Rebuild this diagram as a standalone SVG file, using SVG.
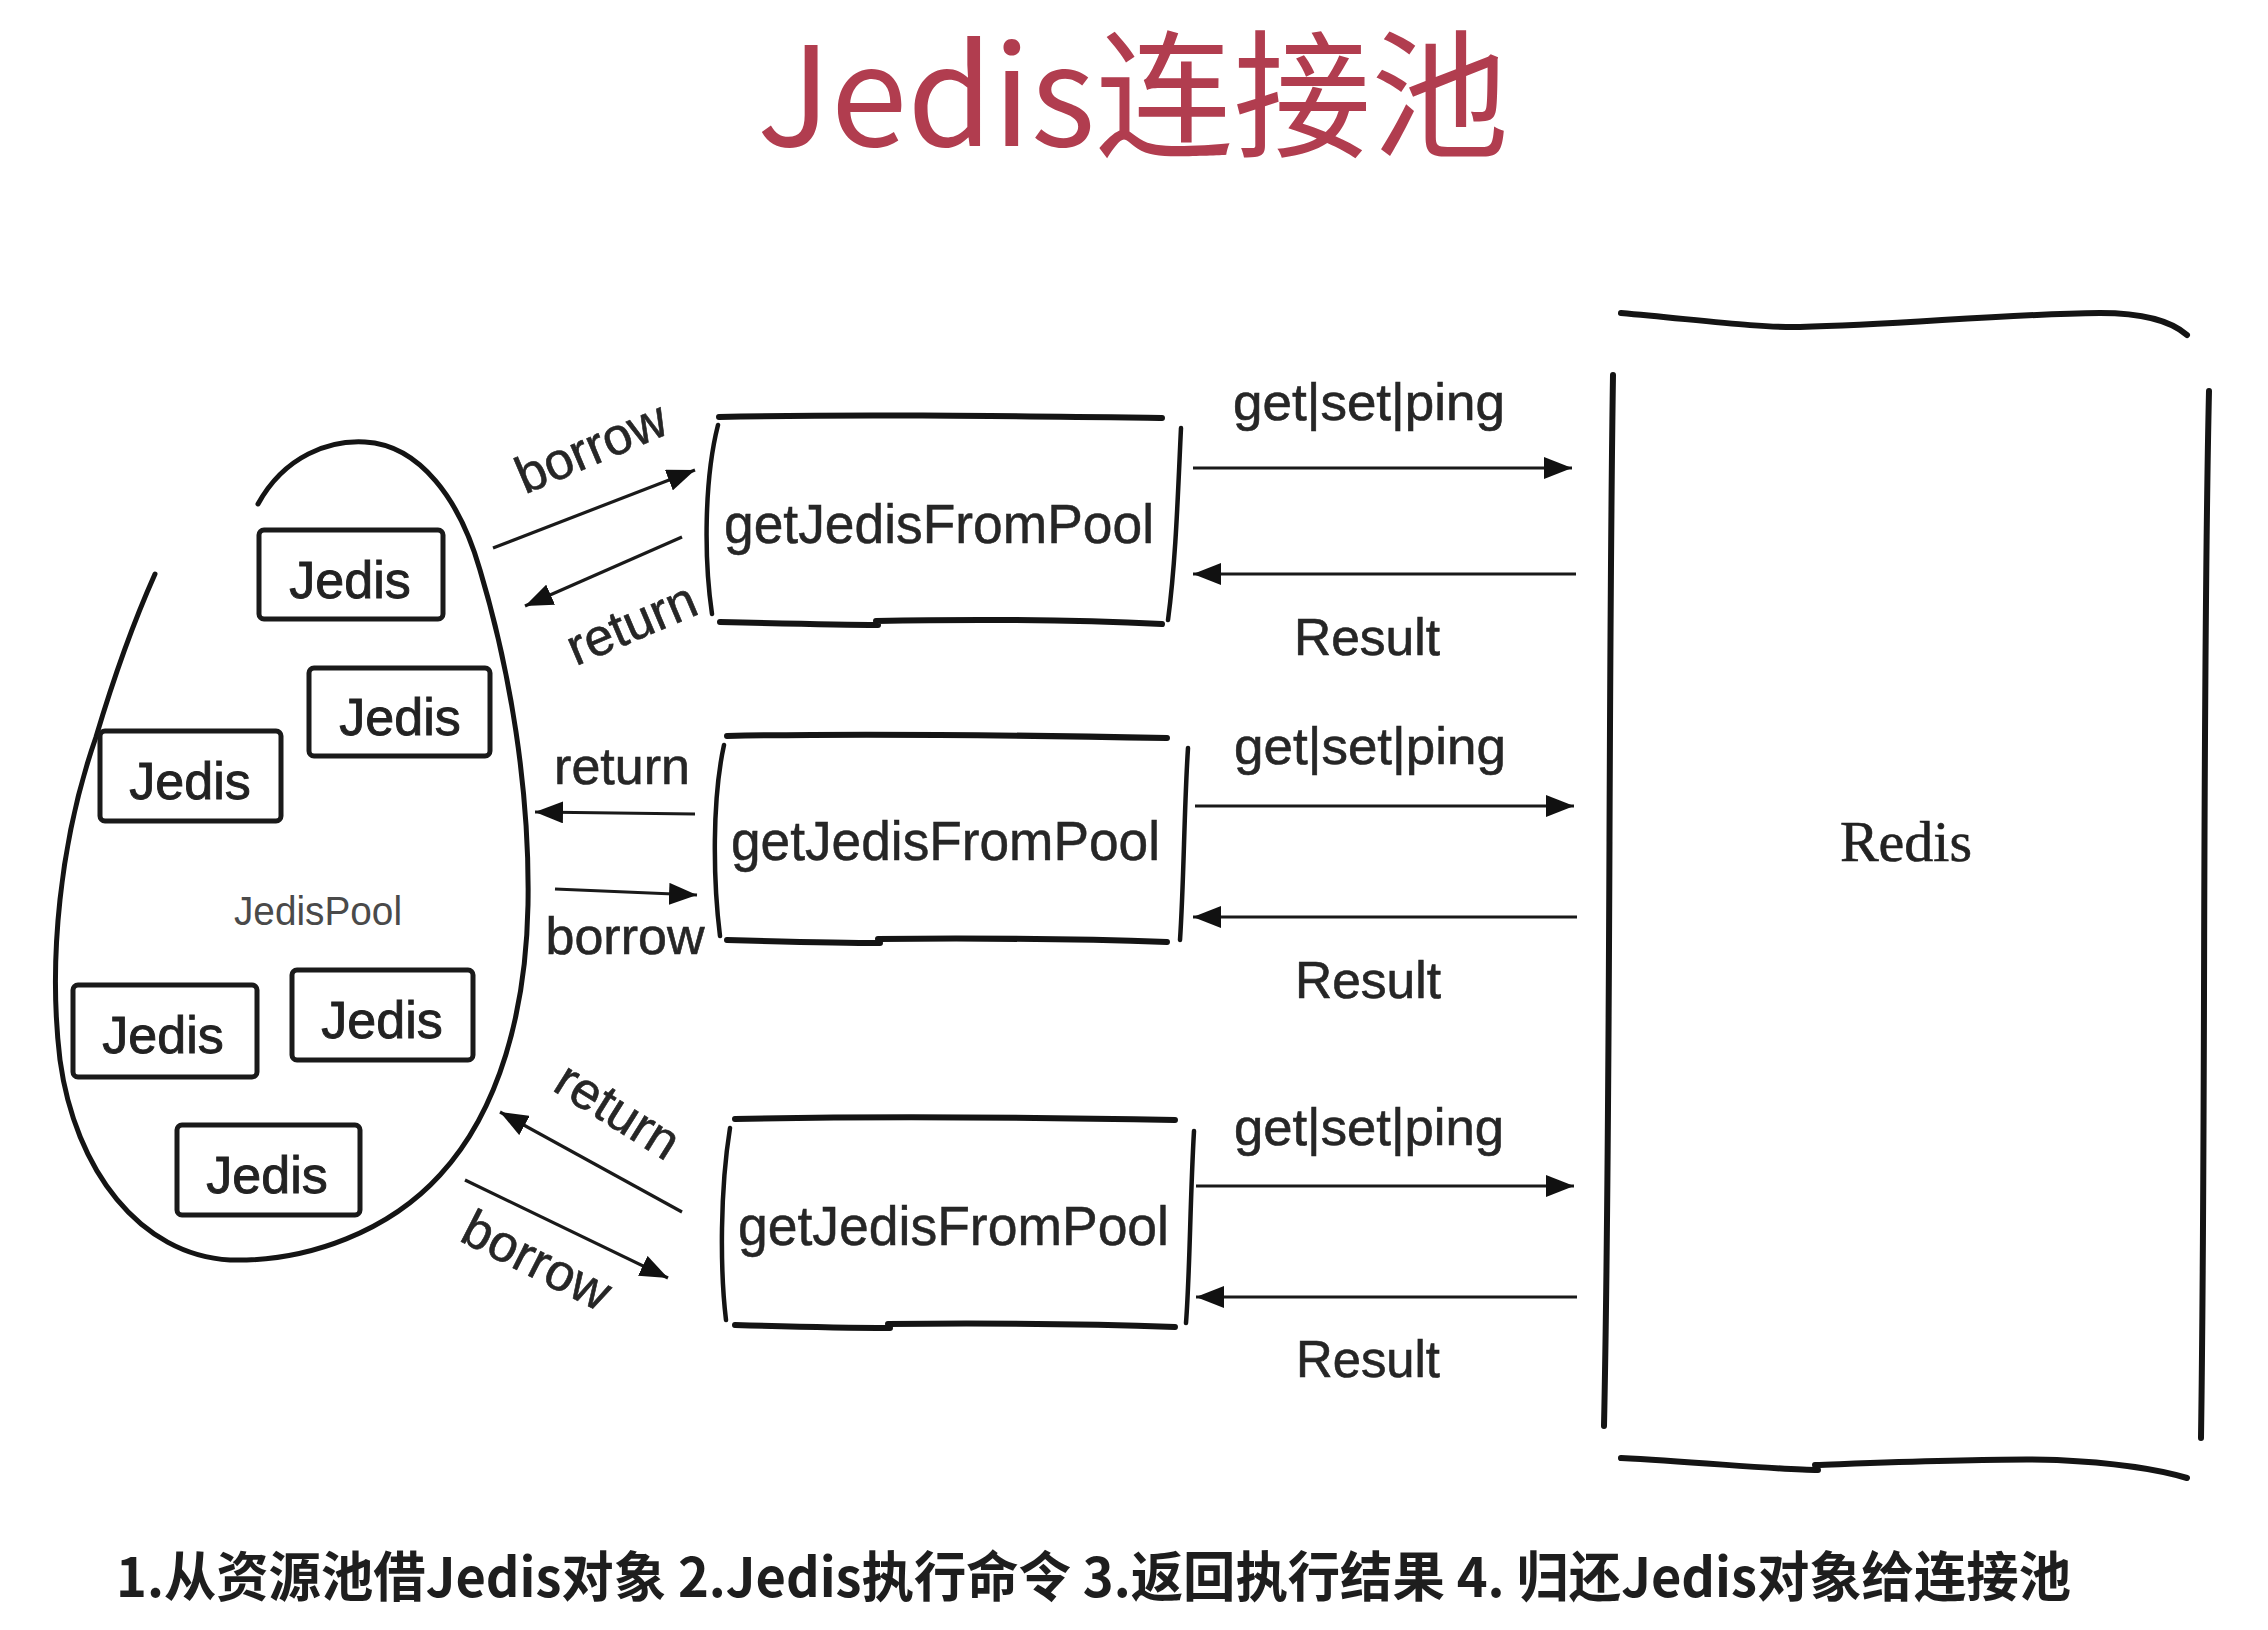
<svg xmlns="http://www.w3.org/2000/svg" width="2268" height="1630" viewBox="0 0 2268 1630">
<style>
.ink{fill:none;stroke:#141414;stroke-linecap:round;stroke-linejoin:round}
.thick{stroke-width:6}
.side{stroke-width:4.5}
.jbox{fill:none;stroke:#1a1a1a;stroke-width:5;stroke-linejoin:round}
.arr{fill:none;stroke:#1a1a1a;stroke-width:3.2}
.lbl{font-family:"Liberation Sans",Arial,sans-serif;fill:#262626;stroke:#262626;stroke-width:0.6}
.jt{font-family:"Liberation Sans",Arial,sans-serif;font-size:52px;fill:#222;stroke:#222;stroke-width:0.9;text-anchor:middle}
.fn{font-family:"Liberation Sans",Arial,sans-serif;font-size:55px;fill:#262626;stroke:#262626;stroke-width:0.5}
</style>
<defs>
<marker id="ah" markerUnits="userSpaceOnUse" markerWidth="30" markerHeight="22" refX="28" refY="11" orient="auto">
<path d="M0,0 L28,11 L0,22 Z" fill="#111"/>
</marker>
</defs>
<rect width="2268" height="1630" fill="#ffffff"/>

<g id="title">
<text x="757" y="146" font-family="'Noto Sans CJK SC','Noto Sans',sans-serif" font-size="138" fill="#b13d4f" textLength="752" lengthAdjust="spacingAndGlyphs">Jedis连接池</text>
</g>

<g id="jedispool">
<path class="ink" stroke-width="5" d="M 258 504 C 285 455, 330 440, 365 442 C 420 445, 460 500, 480 570 C 510 670, 530 790, 528 905 C 526 1010, 500 1110, 440 1175 C 390 1230, 310 1262, 230 1260 C 140 1255, 75 1170, 60 1060 C 48 960, 60 840, 96 737 C 110 690, 130 630, 155 574"/>
<text x="318" y="925" font-family="'Liberation Sans',Arial,sans-serif" font-size="40" fill="#4a4a4a" text-anchor="middle" textLength="168" lengthAdjust="spacingAndGlyphs">JedisPool</text>
</g>

<g id="jedis1"><rect class="jbox" x="259" y="530" width="184" height="89" rx="5"/><text class="jt" x="350" y="598">Jedis</text></g>
<g id="jedis2"><rect class="jbox" x="309" y="668" width="181" height="88" rx="5"/><text class="jt" x="400" y="735">Jedis</text></g>
<g id="jedis3"><rect class="jbox" x="100" y="731" width="181" height="90" rx="5"/><text class="jt" x="190" y="799">Jedis</text></g>
<g id="jedis4"><rect class="jbox" x="73" y="985" width="184" height="92" rx="5"/><text class="jt" x="163" y="1053">Jedis</text></g>
<g id="jedis5"><rect class="jbox" x="292" y="970" width="181" height="90" rx="5"/><text class="jt" x="382" y="1038">Jedis</text></g>
<g id="jedis6"><rect class="jbox" x="177" y="1125" width="183" height="90" rx="5"/><text class="jt" x="267" y="1193">Jedis</text></g>

<g id="pool1">
<path class="ink thick" d="M 719 417 C 850 414, 1000 416, 1162 418"/>
<path class="ink side" d="M 718 425 C 704 480, 704 560, 712 614"/>
<path class="ink side" d="M 1181 428 C 1178 490, 1176 560, 1168 620"/>
<path class="ink thick" d="M 720 622 C 800 624, 850 625, 878 625 M 876 621 C 980 619, 1080 620, 1162 624"/>
<text class="fn" x="724" y="543" textLength="430" lengthAdjust="spacingAndGlyphs">getJedisFromPool</text>
</g>

<g id="pool2">
<path class="ink thick" d="M 727 736 C 860 733, 1010 735, 1167 738"/>
<path class="ink side" d="M 724 745 C 712 800, 713 880, 720 936"/>
<path class="ink side" d="M 1188 748 C 1184 810, 1184 880, 1180 940"/>
<path class="ink thick" d="M 727 940 C 800 942, 850 943, 880 943 M 878 939 C 980 938, 1080 939, 1167 942"/>
<text class="fn" x="731" y="860" textLength="429" lengthAdjust="spacingAndGlyphs">getJedisFromPool</text>
</g>

<g id="pool3">
<path class="ink thick" d="M 735 1119 C 870 1116, 1020 1117, 1175 1120"/>
<path class="ink side" d="M 730 1128 C 720 1190, 720 1270, 726 1320"/>
<path class="ink side" d="M 1194 1131 C 1190 1200, 1190 1270, 1186 1323"/>
<path class="ink thick" d="M 735 1325 C 800 1327, 850 1328, 890 1328 M 888 1324 C 990 1323, 1090 1324, 1175 1327"/>
<text class="fn" x="738" y="1245" textLength="431" lengthAdjust="spacingAndGlyphs">getJedisFromPool</text>
</g>

<g id="redis">
<path class="ink thick" d="M 1621 313 C 1700 320, 1760 328, 1800 327 C 1900 325, 2000 314, 2100 313 C 2140 313, 2170 320, 2187 335"/>
<path class="ink thick" d="M 1613 375 C 1608 700, 1611 1100, 1604 1426"/>
<path class="ink thick" d="M 2209 391 C 2202 700, 2206 1100, 2201 1438"/>
<path class="ink thick" d="M 1621 1458 C 1700 1462, 1780 1470, 1818 1470 M 1815 1465 C 1900 1462, 2000 1458, 2057 1460 C 2120 1463, 2160 1470, 2187 1478"/>
<text x="1906" y="861" font-family="'Liberation Serif','Times New Roman',serif" font-size="58" fill="#222" stroke="#222" stroke-width="0.6" text-anchor="middle">Redis</text>
</g>

<g id="connectors">
<line class="arr" x1="493" y1="548" x2="695" y2="470" marker-end="url(#ah)"/>
<line class="arr" x1="682" y1="537" x2="525" y2="606" marker-end="url(#ah)"/>
<line class="arr" x1="695" y1="814" x2="535" y2="812" marker-end="url(#ah)"/>
<line class="arr" x1="555" y1="889" x2="697" y2="895" marker-end="url(#ah)"/>
<line class="arr" x1="682" y1="1212" x2="500" y2="1112" marker-end="url(#ah)"/>
<line class="arr" x1="465" y1="1180" x2="668" y2="1278" marker-end="url(#ah)"/>

<line class="arr" x1="1193" y1="468" x2="1572" y2="468" marker-end="url(#ah)"/>
<line class="arr" x1="1576" y1="574" x2="1193" y2="574" marker-end="url(#ah)"/>
<line class="arr" x1="1195" y1="806" x2="1574" y2="806" marker-end="url(#ah)"/>
<line class="arr" x1="1577" y1="917" x2="1193" y2="917" marker-end="url(#ah)"/>
<line class="arr" x1="1196" y1="1186" x2="1574" y2="1186" marker-end="url(#ah)"/>
<line class="arr" x1="1577" y1="1297" x2="1196" y2="1297" marker-end="url(#ah)"/>
</g>

<g id="labels">
<text class="lbl" font-size="52" text-anchor="middle" transform="translate(591,447) rotate(-23)" y="18">borrow</text>
<text class="lbl" font-size="52" text-anchor="middle" transform="translate(632,625) rotate(-23)" y="16">return</text>
<text class="lbl" font-size="52" text-anchor="middle" x="622" y="784">return</text>
<text class="lbl" font-size="52" text-anchor="middle" x="625" y="954">borrow</text>
<text class="lbl" font-size="52" text-anchor="middle" transform="translate(617,1112) rotate(32)" y="16">return</text>
<text class="lbl" font-size="52" text-anchor="middle" transform="translate(537,1260) rotate(27)" y="18">borrow</text>

<text class="lbl" font-size="52" x="1233" y="420" textLength="272" lengthAdjust="spacingAndGlyphs">get|set|ping</text>
<text class="lbl" font-size="52" x="1294" y="655" textLength="146" lengthAdjust="spacingAndGlyphs">Result</text>
<text class="lbl" font-size="52" x="1234" y="764" textLength="272" lengthAdjust="spacingAndGlyphs">get|set|ping</text>
<text class="lbl" font-size="52" x="1295" y="998" textLength="146" lengthAdjust="spacingAndGlyphs">Result</text>
<text class="lbl" font-size="52" x="1234" y="1145" textLength="270" lengthAdjust="spacingAndGlyphs">get|set|ping</text>
<text class="lbl" font-size="52" x="1296" y="1377" textLength="144" lengthAdjust="spacingAndGlyphs">Result</text>
</g>

<g id="footer">
<text x="116" y="1597" font-family="'Noto Sans CJK SC','Noto Sans',sans-serif" font-size="54" font-weight="bold" fill="#1e1e1e" textLength="1955" lengthAdjust="spacingAndGlyphs">1.从资源池借Jedis对象 2.Jedis执行命令 3.返回执行结果 4. 归还Jedis对象给连接池</text>
</g>
</svg>
